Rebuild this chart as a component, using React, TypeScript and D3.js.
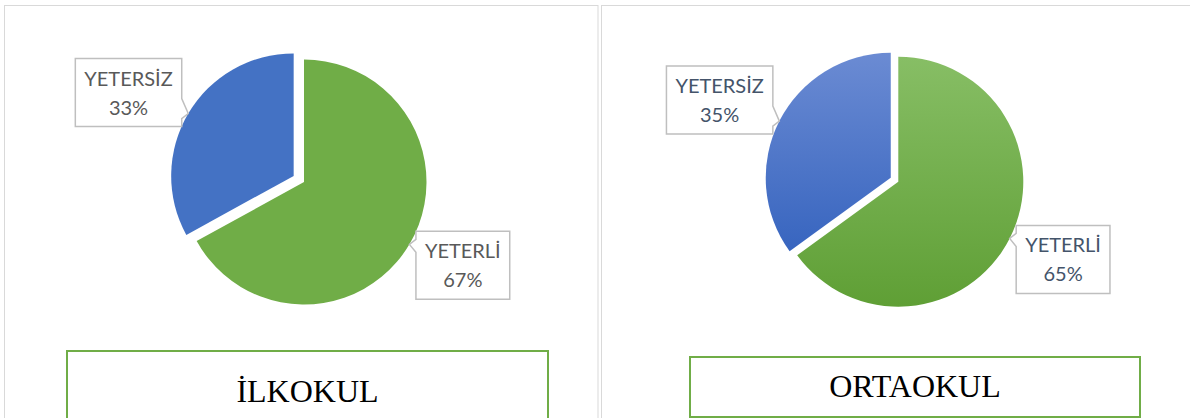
import React from 'react';
import * as d3 from 'd3';

const categories = ['YETERLİ', 'YETERSİZ'];
const ilkokulValues = [67, 33];
const ortaokulValues = [65, 35];
const panelTitles = ['İLKOKUL', 'ORTAOKUL'];

const W = 1190;
const H = 418;

type Panel = {
  id: string;
  title: string;
  values: number[];
  cx: number;
  cy: number;
  r: number;
  explode: number;
  frame: { x: number; y: number; w: number; h: number };
  titleBox: { x: number; y: number; w: number; h: number; base: number };
  textColor: string;
  gradient: boolean;
};

const panels: Panel[] = [
  {
    id: 'p0',
    title: panelTitles[0],
    values: ilkokulValues,
    cx: 304,
    cy: 182,
    r: 122.5,
    explode: 12,
    frame: { x: 4.5, y: 5.5, w: 593.5, h: 430 },
    titleBox: { x: 67, y: 351, w: 481, h: 90, base: 402 },
    textColor: '#595959',
    gradient: false,
  },
  {
    id: 'p1',
    title: panelTitles[1],
    values: ortaokulValues,
    cx: 898.3,
    cy: 181.7,
    r: 125,
    explode: 8.5,
    frame: { x: 601.5, y: 5.5, w: 600, h: 430 },
    titleBox: { x: 690, y: 357, w: 450, h: 60, base: 397 },
    textColor: '#44546A',
    gradient: true,
  },
];

const flatColors = ['#70AD47', '#4472C4'];
const gradStops = [
  ['#87BE65', '#5F9F35'],
  ['#6B8BD3', '#2A5BBA'],
];

const LABEL_FONT = '20px Lato';
let measureCtx: CanvasRenderingContext2D | null = null;
function measure(t: string): number {
  if (!measureCtx) {
    const c = document.createElement('canvas');
    measureCtx = c.getContext('2d');
  }
  if (!measureCtx) return t.length * 10;
  measureCtx.font = LABEL_FONT;
  return measureCtx.measureText(t).width;
}

function PiePanel({ p }: { p: Panel }) {
  const pie = d3.pie<number>().sort(null).value((v) => v);
  const arcs = pie(p.values);
  const arcGen = d3.arc<d3.PieArcDatum<number>>().innerRadius(0).outerRadius(p.r);
  const total = d3.sum(p.values);
  const fmt = d3.format('.0%');

  return (
    <g>
      <defs>
        {p.gradient &&
          gradStops.map((s, i) => (
            <linearGradient
              key={i}
              id={`${p.id}-g${i}`}
              gradientUnits="userSpaceOnUse"
              x1={0}
              x2={0}
              y1={-p.r}
              y2={p.r}
            >
              <stop offset="0%" stopColor={s[0]} />
              <stop offset="100%" stopColor={s[1]} />
            </linearGradient>
          ))}
      </defs>
      <rect
        x={p.frame.x}
        y={p.frame.y}
        width={p.frame.w}
        height={p.frame.h}
        fill="none"
        stroke="#D9D9D9"
        strokeWidth={1}
      />
      {arcs.map((a, i) => {
        const mid = (a.startAngle + a.endAngle) / 2;
        const off = i === 1 ? p.explode : 0;
        const ox = p.cx + Math.sin(mid) * off;
        const oy = p.cy - Math.cos(mid) * off;
        const fill = p.gradient ? `url(#${p.id}-g${i})` : flatColors[i];
        return (
          <path key={i} d={arcGen(a) || ''} transform={`translate(${ox},${oy})`} fill={fill} />
        );
      })}
      {arcs.map((a, i) => {
        const mid = (a.startAngle + a.endAngle) / 2;
        const off = i === 1 ? p.explode : 0;
        const ox = p.cx + Math.sin(mid) * off;
        const oy = p.cy - Math.cos(mid) * off;
        const tx = ox + Math.sin(mid) * p.r;
        const ty = oy - Math.cos(mid) * p.r;
        const onLeft = Math.sin(mid) < 0;
        const above = Math.cos(mid) > 0;
        const line1 = categories[i];
        const line2 = fmt(a.value / total);
        const tw = Math.max(measure(line1), measure(line2));
        const bw = tw + 18;
        const bh = 68;
        const gap = 6.5;
        const bx = onLeft ? tx - gap - bw : tx + gap;
        const by = (above ? ty - 21 : ty + 21) - bh / 2;
        const b1 = above ? ty - 15 : ty - 5;
        const b2 = above ? ty + 5 : ty + 8;
        let d: string;
        if (onLeft) {
          const ex = bx + bw;
          d = `M${bx},${by}H${ex}V${b1}L${tx},${ty}L${ex},${b2}V${by + bh}H${bx}Z`;
        } else {
          d = `M${bx},${by}H${bx + bw}V${by + bh}H${bx}V${b2}L${tx},${ty}L${bx},${b1}Z`;
        }
        const mx = bx + bw / 2;
        return (
          <g key={`l${i}`}>
            <path d={d} fill="#FFFFFF" stroke="#BFBFBF" strokeWidth={1.5} />
            <text
              x={mx}
              y={by + 27}
              textAnchor="middle"
              fontFamily="Lato, 'Noto Sans', sans-serif"
              fontSize={20}
              fill={p.textColor}
            >
              {line1}
            </text>
            <text
              x={mx}
              y={by + 56}
              textAnchor="middle"
              fontFamily="Lato, 'Noto Sans', sans-serif"
              fontSize={20}
              fill={p.textColor}
            >
              {line2}
            </text>
          </g>
        );
      })}
      <rect
        x={p.titleBox.x}
        y={p.titleBox.y}
        width={p.titleBox.w}
        height={p.titleBox.h}
        fill="#FFFFFF"
        stroke="#70AD47"
        strokeWidth={2}
      />
      <text
        x={p.titleBox.x + p.titleBox.w / 2}
        y={p.titleBox.base}
        textAnchor="middle"
        fontFamily="'Liberation Serif', 'Times New Roman', serif"
        fontSize={32}
        fill="#000000"
      >
        {p.title}
      </text>
    </g>
  );
}

export default function App() {
  return (
    <div style={{ position: 'absolute', left: 0, top: 0, width: W, height: H, overflow: 'hidden', background: '#fff' }}>
      <svg width={W} height={H} viewBox={`0 0 ${W} ${H}`} style={{ display: 'block' }}>
        <rect x={0} y={0} width={W} height={H} fill="#FFFFFF" />
        {panels.map((p) => (
          <PiePanel key={p.id} p={p} />
        ))}
      </svg>
    </div>
  );
}
